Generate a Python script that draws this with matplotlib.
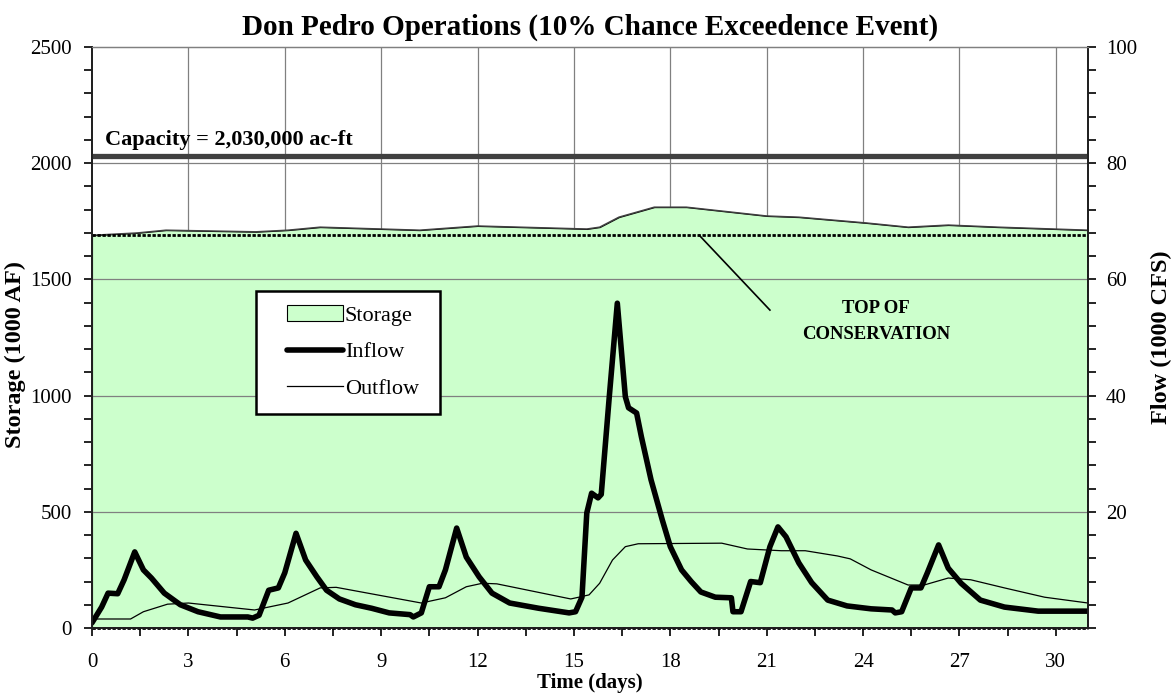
import matplotlib.pyplot as plt
import numpy as np
from matplotlib.ticker import MultipleLocator
from matplotlib.patches import Rectangle

plt.rcParams['font.family'] = ['Liberation Serif', 'DejaVu Serif']

# данные
inflow_days = [0.0, 0.3, 0.5, 0.8, 1.0, 1.33, 1.6, 1.85, 2.25, 2.75, 3.3, 4.0, 4.85, 5.0, 5.2,
               5.5, 5.8, 6.0, 6.35, 6.65, 7.0, 7.3, 7.7, 8.2, 8.7, 9.25, 9.9, 10.0, 10.25,
               10.5, 10.8, 11.0, 11.35, 11.65, 12.05, 12.45, 13.0, 13.9, 14.85, 15.05, 15.25,
               15.4, 15.55, 15.75, 15.85, 16.1, 16.35, 16.6, 16.7, 16.95, 17.1, 17.4, 17.75,
               18.0, 18.35, 18.65, 18.95, 19.4, 19.9, 19.95, 20.2, 20.5, 20.8, 21.1, 21.35,
               21.6, 22.0, 22.4, 22.9, 23.5, 24.25, 24.9, 25.0, 25.2, 25.5, 25.8, 26.0, 26.35,
               26.65, 27.05, 27.65, 28.4, 29.45, 31.0]
inflow = [0.9, 3.6, 6.0, 5.9, 8.3, 13.1, 10.0, 8.6, 6.0, 4.0, 2.8, 1.9, 1.9, 1.7, 2.2,
          6.5, 6.9, 9.5, 16.3, 11.7, 8.8, 6.5, 5.0, 4.0, 3.4, 2.6, 2.3, 1.9, 2.6,
          7.1, 7.1, 10.0, 17.2, 12.2, 8.8, 6.0, 4.3, 3.4, 2.6, 2.8, 5.3,
          19.8, 23.2, 22.4, 23.0, 39.8, 55.9, 39.8, 37.9, 37.0, 32.9, 25.5, 18.6,
          14.0, 10.0, 8.0, 6.2, 5.3, 5.2, 2.8, 2.8, 8.0, 7.8, 14.0, 17.4,
          15.7, 11.2, 7.8, 4.8, 3.8, 3.3, 3.1, 2.6, 2.8, 6.9, 6.9, 9.5, 14.3,
          10.3, 7.7, 4.8, 3.6, 2.9, 2.9]

outflow_days = [0.0, 1.2, 1.6, 2.35, 3.0, 5.06, 6.1, 7.1, 7.6, 10.25, 11.0, 11.65, 12.15,
                12.6, 14.9, 15.15, 15.47, 15.8, 16.2, 16.6, 17.0, 19.6, 20.4, 21.45, 22.2,
                23.2, 23.6, 24.25, 25.4, 25.9, 26.65, 27.35, 28.4, 29.65, 31.0]
outflow = [1.55, 1.55, 2.8, 4.1, 4.3, 3.1, 4.3, 6.9, 7.0, 4.3, 5.2, 7.1, 7.7,
           7.6, 5.0, 5.3, 5.7, 7.7, 11.7, 14.0, 14.5, 14.6, 13.6, 13.3, 13.3,
           12.4, 11.9, 10.0, 7.4, 7.4, 8.6, 8.3, 6.9, 5.3, 4.3]

storage_days = [0, 1.4, 2.3, 5.1, 6.1, 7.1, 9.0, 10.2, 12.0, 15.4, 15.8, 16.4, 17.5, 18.5,
                21.0, 22.0, 24.1, 25.4, 26.65, 28.2, 31]
storage = [1690, 1700, 1712, 1705, 1712, 1725, 1717, 1712, 1730, 1717, 1725, 1768, 1811, 1811,
           1773, 1768, 1743, 1725, 1734, 1725, 1712]

capacity = 2030
top_of_conservation = 1690
x_end = 31

fig = plt.figure(figsize=(11.75, 7), dpi=100)
ax = fig.add_axes([92/1175, 72/700, 996/1175, 581/700])

# вертикальная сетка под заливкой
for d in range(3, 31, 3):
    ax.axvline(d, color='#808080', lw=0.9, zorder=0)

# объём водохранилища
st = ax.fill_between(storage_days, storage, color='#CCFFCC', zorder=1, label='Storage')
ax.plot(storage_days, storage, color='#404040', lw=1.0, zorder=2)

# горизонтальная сетка поверх заливки
for s in [500, 1000, 1500, 2000]:
    ax.axhline(s, color='#808080', lw=0.9, zorder=2)

# верх зоны регулирования (пунктирная рамка)
ax.plot([0, x_end, x_end], [top_of_conservation, top_of_conservation, 0],
        color='k', lw=2, ls=(0, (1.2, 0.6)), zorder=3)
ax.plot([0, x_end], [0, 0], color='k', lw=2, ls=(0, (1.2, 0.6)), zorder=3, clip_on=False)

# ёмкость
ax.axhline(capacity, color='#404040', lw=3.8, zorder=3)
ax.text(0.4, 2100, 'Capacity = 2,030,000 ac-ft', fontsize=16, fontweight='bold', va='center')

# подпись TOP OF CONSERVATION
ax.plot([18.9, 21.1], [top_of_conservation, 1368], color='k', lw=1.2, zorder=3)
ax.text(24.4, 1318, 'TOP OF\nCONSERVATION', fontsize=13.5, fontweight='bold',
        ha='center', va='center', linespacing=1.7)

ax.set_xlim(0, x_end)
ax.set_ylim(0, 2500)
ax.xaxis.set_major_locator(MultipleLocator(3))
ax.xaxis.set_minor_locator(MultipleLocator(1.5))
ax.yaxis.set_major_locator(MultipleLocator(500))
ax.yaxis.set_minor_locator(MultipleLocator(100))
ax.tick_params(which='both', direction='out', length=6, width=1.2, labelsize=15)
ax.tick_params(axis='x', pad=12)
ax.tick_params(axis='y', pad=8.5)
ax.set_xlabel('Time (days)', fontsize=15, fontweight='bold', labelpad=1)
ax.set_ylabel('Storage (1000 AF)', fontsize=17.5, fontweight='bold')
ax.yaxis.set_label_coords(-0.066, 0.47)
ax.set_title('Don Pedro Operations (10% Chance Exceedence Event)', fontsize=21,
             fontweight='bold', pad=9)

# расходы на правой оси
ax2 = ax.twinx()
l_in, = ax2.plot(inflow_days, inflow, color='k', lw=4, solid_joinstyle='round',
                 solid_capstyle='round', label='Inflow')
l_out, = ax2.plot(outflow_days, outflow, color='k', lw=0.9, label='Outflow')
ax2.set_ylim(0, 100)
ax2.yaxis.set_major_locator(MultipleLocator(20))
ax2.yaxis.set_minor_locator(MultipleLocator(4))
ax2.set_yticks([20, 40, 60, 80, 100])
ax2.tick_params(which='both', direction='out', length=6, width=1.2, labelsize=15)
ax2.tick_params(axis='y', pad=7)
ax2.set_ylabel('Flow (1000 CFS)', fontsize=17.5, fontweight='bold', labelpad=10)

for a in (ax, ax2):
    for side in ['left', 'right', 'bottom']:
        a.spines[side].set_color('#202020')
        a.spines[side].set_linewidth(1.3)
    a.spines['top'].set_color('#808080')
    a.spines['top'].set_linewidth(0.9)

# рамка легенды рисуется отдельно
fig.patches.append(Rectangle((256/1175, 1 - 414/700), 184/1175, 123/700,
                             transform=fig.transFigure, facecolor='white',
                             edgecolor='k', lw=1.8, zorder=4))
st.set_edgecolor('k')
st.set_linewidth(0.8)
leg = fig.legend([st, l_in, l_out], ['Storage', 'Inflow', 'Outflow'], loc='center',
                 bbox_to_anchor=(353/1175, 1 - 352/700), fontsize=16, frameon=False,
                 handlelength=2.5, handletextpad=0.1, labelspacing=0.72)
leg.set_zorder(5)

plt.savefig('out.png', dpi=100)
